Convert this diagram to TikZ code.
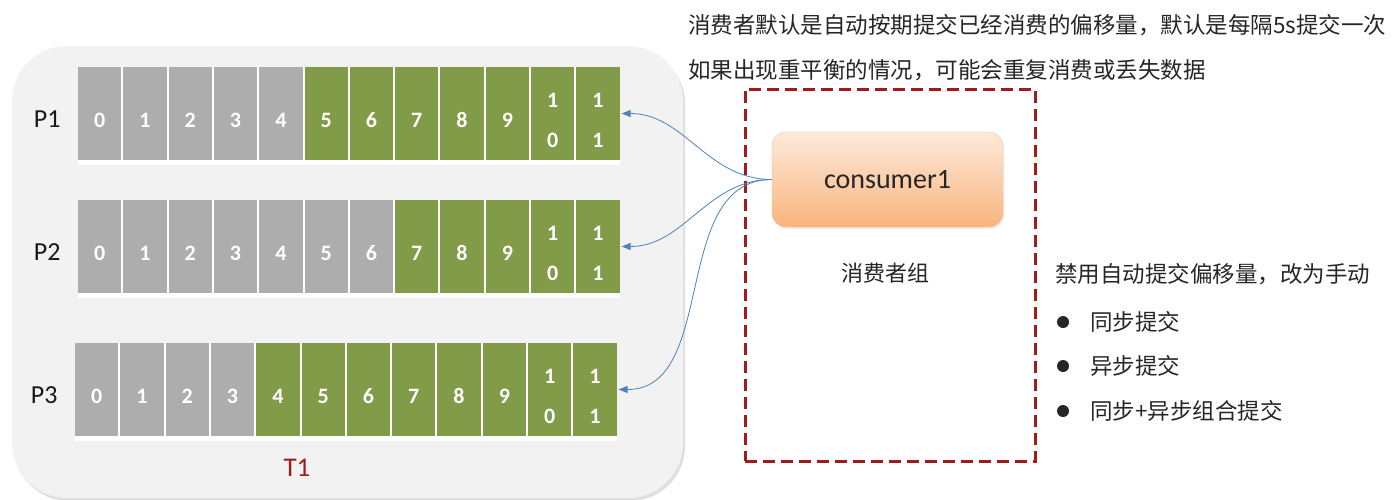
\documentclass[tikz,border=0pt]{standalone}
\usepackage{fontspec}
\setmainfont{Carlito}
\newfontfamily\cjk{Noto Sans CJK SC}
\usetikzlibrary{arrows.meta,shadows}

\definecolor{cellgray}{HTML}{ADADAD}
\definecolor{cellgreen}{HTML}{819B49}
\definecolor{topicfill}{HTML}{F2F2F2}
\definecolor{groupred}{HTML}{A11B1B}
\definecolor{linkblue}{HTML}{4F81BD}
\definecolor{peachtop}{HTML}{FDEADB}
\definecolor{peachbottom}{HTML}{F9B47D}

\tikzset{
  cell/.style={minimum width=43.3pt,minimum height=93pt,inner sep=0pt,outer sep=0pt,text=white,align=center,text height=28pt,text depth=0pt,font=\fontsize{22}{40}\selectfont\bfseries},
  strip/.style={minimum width=542pt,minimum height=98pt,inner sep=0pt,outer sep=0pt,fill=white},
  part label/.style={font=\fontsize{26}{30}\selectfont,text=black!90},
  note/.style={font=\cjk\fontsize{22.5}{27}\selectfont,text=black!85,inner sep=0pt},
  link/.style={linkblue,line width=0.8pt,shorten >=2pt,-{Triangle[length=9pt,width=7pt]}},
}

\begin{document}
\begin{tikzpicture}[x=1pt,y=-1pt]
  \useasboundingbox (0,0) rectangle (1394,499);
  \fill[white] (0,0) rectangle (1394,499);

  % topic T1 with its three partitions
  \node[minimum width=671pt,minimum height=452pt,rounded corners=55pt,fill=topicfill,drop shadow={shadow xshift=2pt,shadow yshift=-3pt,opacity=0.25}] (topic) at (347.5,272) {};
  \foreach \row/\x/\y/\first in {1/78/67/5,2/78/200/7,3/75/343/4} {
    \node[strip,anchor=north west] (p\row-strip) at (\x,\y) {};
    \node[cell,fill=cellgray,anchor=north west] (p\row-0) at (p\row-strip.north west) {0};
    \foreach \i in {1,...,11} {
      \pgfmathtruncatemacro\prevcell{\i-1}
      \ifnum\i<\first \def\cellcol{cellgray}\else\def\cellcol{cellgreen}\fi
      \ifnum\i>9 \edef\lab{1\noexpand\\\the\numexpr\i-10\relax}\def\cellheight{68pt}\else\edef\lab{\i}\def\cellheight{28pt}\fi
      \node[cell,fill=\cellcol,text height=\cellheight,anchor=west,xshift=2pt] (p\row-\i) at (p\row-\prevcell.east) {\lab};
    }
    \node[part label,anchor=east,xshift=-14pt,yshift=-6pt] (p\row) at (p\row-0.west) {P\row};
  }
  \node[font=\fontsize{27}{30}\selectfont,text=groupred] (t1) at (297,468) {T1};

  % consumer group
  \node[minimum width=290pt,minimum height=372pt,draw=groupred,line width=3pt,dash pattern=on 12pt off 6pt] (group) at (890,275) {};
  \node[minimum width=231pt,minimum height=95pt,rounded corners=14pt,top color=peachtop,bottom color=peachbottom,draw=peachbottom!80,font=\fontsize{28}{32}\selectfont,text=black!85,drop shadow={shadow xshift=1pt,shadow yshift=-2pt,opacity=0.15}] (consumer) at (887.5,179.5) {consumer1};
  \node[note,font=\cjk\fontsize{22}{26}\selectfont] (group label) at (885,273) {消费者组};

  \draw[link] (consumer.west) to[out=180,in=0] (p1-11.east);
  \draw[link] (consumer.west) to[out=180,in=0] (p2-11.east);
  \draw[link] (consumer.west) to[out=180,in=0] (p3-11.east);

  % notes
  \node[note,anchor=west] (note auto) at (688,25) {消费者默认是自动按期提交已经消费的偏移量，默认是每隔5s提交一次};
  \node[note,anchor=west] (note rebalance) at (688,70) {如果出现重平衡的情况，可能会重复消费或丢失数据};
  \node[note,anchor=west] (manual) at (1055,274) {禁用自动提交偏移量，改为手动};
  \foreach \k/\y/\txt in {1/322/同步提交,2/366/异步提交,3/411/同步+异步组合提交} {
    \node[circle,fill=black!85,inner sep=0pt,minimum size=12pt] (bullet-\k) at (1063,\y) {};
    \node[note,anchor=west] (item-\k) at (1090,\y) {\txt};
  }
\end{tikzpicture}
\end{document}
